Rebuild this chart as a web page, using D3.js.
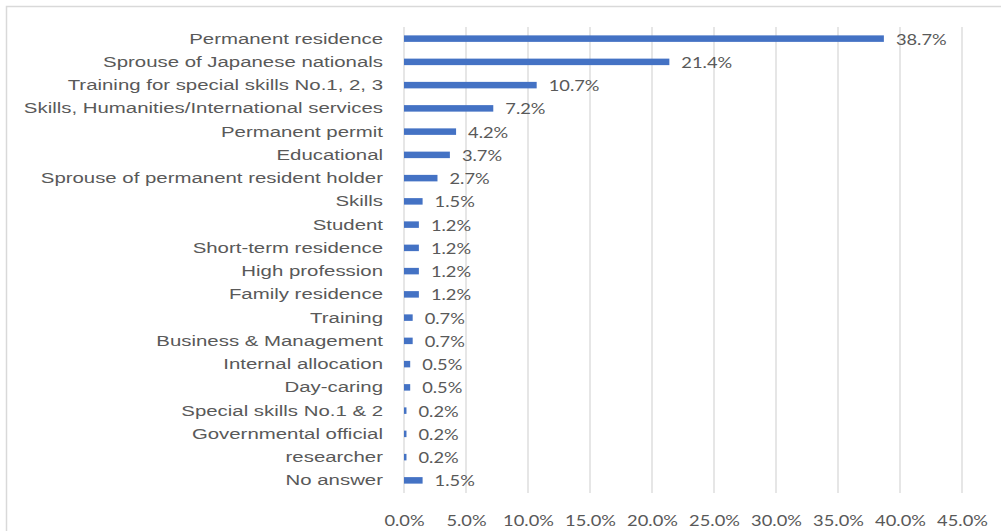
<!DOCTYPE html>
<html>
<head>
<meta charset="utf-8">
<script src="https://cdn.jsdelivr.net/npm/d3@7"></script>
<style>
  html, body { margin: 0; padding: 0; background: #fff; }
  svg { display: block; }
</style>
</head>
<body>
<div id="chart"></div>
<script>
// Dades del gràfic
const categories = [
    'Permanent residence',
    'Sprouse of Japanese nationals',
    'Training for special skills No.1, 2, 3',
    'Skills, Humanities/International services',
    'Permanent permit',
    'Educational',
    'Sprouse of permanent resident holder',
    'Skills',
    'Student',
    'Short-term residence',
    'High profession',
    'Family residence',
    'Training',
    'Business & Management',
    'Internal allocation',
    'Day-caring',
    'Special skills No.1 & 2',
    'Governmental official',
    'researcher',
    'No answer'
];
const values = [38.7, 21.4, 10.7, 7.2, 4.2, 3.7, 2.7, 1.5, 1.2, 1.2, 1.2, 1.2, 0.7, 0.7, 0.5, 0.5, 0.2, 0.2, 0.2, 1.5];
const tickValues = [0, 5, 10, 15, 20, 25, 30, 35, 40, 45];

const data = categories.map((c, i) => ({ label: c, value: values[i] }));

const W = 1001, H = 531;
const svg = d3.select('#chart').append('svg')
    .attr('width', W)
    .attr('height', H);

// marc del gràfic
svg.append('rect')
    .attr('x', 6.5)
    .attr('y', 6.5)
    .attr('width', W + 20)
    .attr('height', H + 20)
    .attr('fill', 'none')
    .attr('stroke', '#d9d9d9')
    .attr('stroke-width', 1.5);

const x = d3.scaleLinear()
    .domain([0, 45])
    .range([404, 962]);

const y = d3.scaleBand()
    .domain(categories)
    .range([27, 492])
    .paddingInner(0.72)
    .paddingOuter(0.36);

// línies de la graella
svg.append('g')
    .selectAll('line')
    .data(tickValues)
    .enter().append('line')
    .attr('x1', d => x(d))
    .attr('x2', d => x(d))
    .attr('y1', 27)
    .attr('y2', 493)
    .attr('stroke', '#d9d9d9')
    .attr('stroke-width', 1.3);

// eix x (només etiquetes)
const xAxis = svg.append('g')
    .attr('transform', 'translate(0,526)')
    .call(d3.axisBottom(x).tickValues(tickValues).tickSize(0).tickPadding(0)
        .tickFormat(d => d.toFixed(1) + '%'));
xAxis.select('.domain').remove();
xAxis.selectAll('text')
    .attr('y', 0)
    .attr('dy', 0)
    .attr('text-anchor', 'middle')
    .attr('fill', '#595959')
    .style('font-family', 'Lato, "Open Sans", sans-serif')
    .style('font-size', '15px')
    .attr('transform', 'scale(1.22,1)');

// eix y (etiquetes de categoria)
svg.append('g')
    .selectAll('text')
    .data(data)
    .enter().append('text')
    .attr('transform', d => `translate(383,${y(d.label) + y.bandwidth() / 2 + 5}) scale(1.36,1)`)
    .attr('text-anchor', 'end')
    .attr('fill', '#595959')
    .style('font-family', '"Liberation Sans", Arial, sans-serif')
    .style('font-size', '15px')
    .text(d => d.label);

// barres
svg.append('g')
    .selectAll('rect')
    .data(data)
    .enter().append('rect')
    .attr('x', x(0))
    .attr('y', d => y(d.label))
    .attr('width', d => x(d.value) - x(0))
    .attr('height', y.bandwidth())
    .attr('fill', '#4472c4');

// etiquetes de valor
svg.append('g')
    .selectAll('text')
    .data(data)
    .enter().append('text')
    .attr('transform', d => `translate(${x(d.value) + 12},${y(d.label) + y.bandwidth() / 2 + 6}) scale(1.22,1)`)
    .attr('fill', '#595959')
    .style('font-family', 'Lato, "Open Sans", sans-serif')
    .style('font-size', '15px')
    .text(d => d.value.toFixed(1) + '%');
</script>
</body>
</html>
